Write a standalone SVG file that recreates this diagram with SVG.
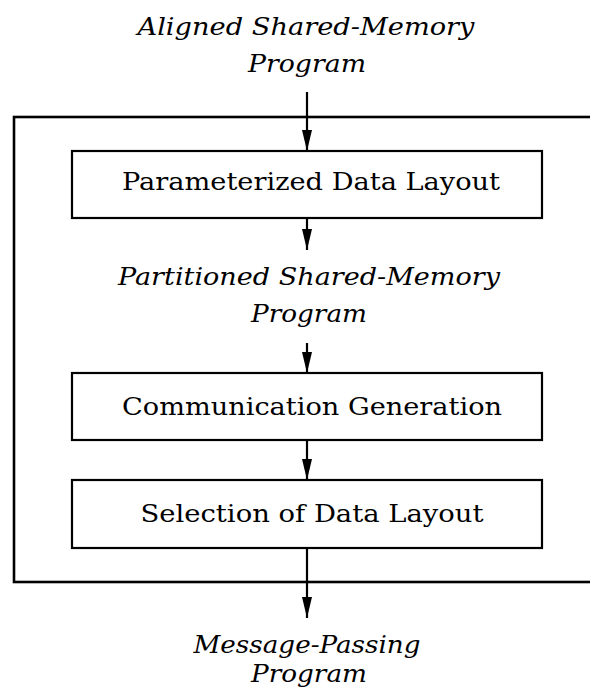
<svg xmlns="http://www.w3.org/2000/svg" width="590" height="698" viewBox="0 0 590 698">
<style>
.box{fill:none;stroke:#000;stroke-width:2.2}
.outer{fill:none;stroke:#000;stroke-width:2.6}
.lbl{font-family:"DejaVu Serif","Liberation Serif","Times New Roman",serif;font-size:23.5px;fill:#000;text-anchor:middle}
.it{font-family:"DejaVu Serif","Liberation Serif","Times New Roman",serif;font-style:italic;font-size:25px;fill:#000;text-anchor:middle}
.edge{stroke:#000;stroke-width:2.2;fill:none}
</style>
<defs>
<marker id="ah" viewBox="0 0 21 10" markerWidth="21" markerHeight="10" markerUnits="userSpaceOnUse" refX="21" refY="5" orient="auto">
<path d="M0,0 L21,5 L0,10 z" fill="#000"/>
</marker>
</defs>
<rect width="590" height="698" fill="#fff"/>
<g id="input">
<text class="it" x="306" y="35" textLength="337" lengthAdjust="spacingAndGlyphs">Aligned Shared-Memory</text>
<text class="it" x="307" y="72" textLength="118" lengthAdjust="spacingAndGlyphs">Program</text>
</g>
<g id="compiler">
<rect class="outer" x="14" y="117" width="600" height="465"/>
</g>
<g id="layout">
<rect class="box" x="72" y="151" width="470" height="67"/>
<text class="lbl" x="311" y="190" textLength="378" lengthAdjust="spacingAndGlyphs">Parameterized Data Layout</text>
</g>
<g id="partitioned">
<text class="it" x="309" y="285" textLength="382" lengthAdjust="spacingAndGlyphs">Partitioned Shared-Memory</text>
<text class="it" x="309" y="322" textLength="116" lengthAdjust="spacingAndGlyphs">Program</text>
</g>
<g id="comm">
<rect class="box" x="72" y="373" width="470" height="67"/>
<text class="lbl" x="312" y="415" textLength="380" lengthAdjust="spacingAndGlyphs">Communication Generation</text>
</g>
<g id="selection">
<rect class="box" x="72" y="480" width="470" height="68"/>
<text class="lbl" x="312" y="522" textLength="343" lengthAdjust="spacingAndGlyphs">Selection of Data Layout</text>
</g>
<g id="output">
<text class="it" x="307" y="653" textLength="227" lengthAdjust="spacingAndGlyphs">Message-Passing</text>
<text class="it" x="309" y="682" textLength="116" lengthAdjust="spacingAndGlyphs">Program</text>
</g>
<g id="connectors">
<line class="edge" x1="307" y1="92" x2="307" y2="151" marker-end="url(#ah)"/>
<line class="edge" x1="307" y1="218" x2="307" y2="250" marker-end="url(#ah)"/>
<line class="edge" x1="307" y1="343" x2="307" y2="373" marker-end="url(#ah)"/>
<line class="edge" x1="307" y1="440" x2="307" y2="480" marker-end="url(#ah)"/>
<line class="edge" x1="307" y1="548" x2="307" y2="618" marker-end="url(#ah)"/>
</g>
</svg>
